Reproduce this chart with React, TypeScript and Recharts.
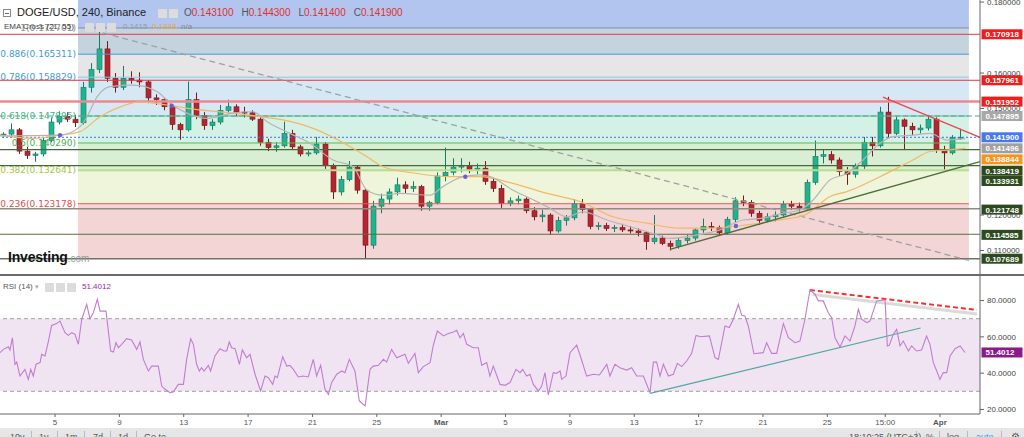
import React from 'react';
import {
  ComposedChart,
  LineChart,
  Line,
  Bar,
  XAxis,
  YAxis,
  ReferenceArea,
  ReferenceLine,
  ReferenceDot,
} from 'recharts';

const SANS = '"Liberation Sans", Arial, Helvetica, sans-serif';
const VERD = '"DejaVu Sans", Verdana, sans-serif';

const DAY_MIN = 0.58;
const DAY_MAX = 61.49;
const PRICE_MIN = 0.10338;
const PRICE_MAX = 0.18058;
const RSI_MIN = 17.5;
const RSI_MAX = 93.53;
const FIB_START = 5.43;
const FIB_END = 60.8;

// 12h candles, open / high / low / close, starting Feb 1 12:00
const ohlc: number[][] = [
  [0.1425, 0.1433, 0.1418, 0.1428], [0.1428, 0.1458, 0.142, 0.144], [0.144, 0.1445, 0.1372, 0.138], [0.138, 0.1392, 0.1358, 0.1368],
  [0.1368, 0.1378, 0.135, 0.1372], [0.1372, 0.1418, 0.1365, 0.141], [0.141, 0.1475, 0.1405, 0.1462], [0.1462, 0.1492, 0.1455, 0.1478],
  [0.1478, 0.149, 0.1462, 0.147], [0.147, 0.1482, 0.1448, 0.146], [0.146, 0.1575, 0.1455, 0.156], [0.156, 0.1628, 0.1545, 0.161],
  [0.161, 0.173, 0.16, 0.1668], [0.1668, 0.169, 0.1575, 0.1585], [0.1585, 0.16, 0.1545, 0.156], [0.156, 0.162, 0.1552, 0.1585],
  [0.1585, 0.1605, 0.157, 0.158], [0.158, 0.1602, 0.156, 0.1575], [0.1575, 0.158, 0.1515, 0.153], [0.153, 0.154, 0.151, 0.1525],
  [0.1525, 0.153, 0.1495, 0.1505], [0.1505, 0.151, 0.144, 0.1455], [0.1455, 0.146, 0.1412, 0.144], [0.144, 0.1576, 0.1435, 0.1525],
  [0.1525, 0.1545, 0.147, 0.148], [0.148, 0.149, 0.144, 0.1452], [0.1452, 0.147, 0.144, 0.1462], [0.1462, 0.151, 0.1455, 0.1495],
  [0.1495, 0.1525, 0.1485, 0.1505], [0.1505, 0.1512, 0.1478, 0.149], [0.149, 0.1505, 0.1475, 0.1488], [0.1488, 0.1495, 0.1465, 0.147],
  [0.147, 0.1475, 0.1395, 0.1405], [0.1405, 0.1415, 0.138, 0.139], [0.139, 0.1405, 0.1378, 0.1395], [0.1395, 0.1463, 0.139, 0.143],
  [0.143, 0.144, 0.1385, 0.1392], [0.1392, 0.1398, 0.1365, 0.1372], [0.1372, 0.1382, 0.1365, 0.1375], [0.1375, 0.142, 0.137, 0.14],
  [0.14, 0.1405, 0.133, 0.134], [0.134, 0.1345, 0.1245, 0.1265], [0.1265, 0.131, 0.1255, 0.13], [0.13, 0.1352, 0.1295, 0.1335],
  [0.1335, 0.134, 0.126, 0.127], [0.127, 0.1275, 0.1077, 0.1115], [0.1115, 0.124, 0.1105, 0.1225], [0.1225, 0.126, 0.1205, 0.1245],
  [0.1245, 0.1275, 0.123, 0.1265], [0.1265, 0.1305, 0.1255, 0.1285], [0.1285, 0.1295, 0.1262, 0.1275], [0.1275, 0.1295, 0.1265, 0.128],
  [0.128, 0.1285, 0.1212, 0.1225], [0.1225, 0.124, 0.1212, 0.1235], [0.1235, 0.132, 0.123, 0.131], [0.131, 0.139, 0.1295, 0.132],
  [0.132, 0.136, 0.1312, 0.1335], [0.1335, 0.136, 0.132, 0.134], [0.134, 0.135, 0.1318, 0.1328], [0.1328, 0.1345, 0.1315, 0.1332],
  [0.1332, 0.1352, 0.1285, 0.1295], [0.1295, 0.1305, 0.1265, 0.1275], [0.1275, 0.1285, 0.122, 0.1232], [0.1232, 0.125, 0.1225, 0.124],
  [0.124, 0.1255, 0.123, 0.1245], [0.1245, 0.125, 0.1205, 0.1212], [0.1212, 0.1222, 0.1185, 0.1195], [0.1195, 0.1215, 0.118, 0.12],
  [0.12, 0.1205, 0.1145, 0.1155], [0.1155, 0.1195, 0.115, 0.1185], [0.1185, 0.12, 0.117, 0.1192], [0.1192, 0.1245, 0.1185, 0.1232],
  [0.1232, 0.1245, 0.1205, 0.1215], [0.1215, 0.122, 0.116, 0.1168], [0.1168, 0.118, 0.1158, 0.117], [0.117, 0.1178, 0.1155, 0.1162],
  [0.1162, 0.1172, 0.1152, 0.1165], [0.1165, 0.1175, 0.1152, 0.1158], [0.1158, 0.1168, 0.1148, 0.1155], [0.1155, 0.1162, 0.114, 0.115],
  [0.115, 0.1155, 0.1102, 0.1125], [0.1125, 0.12, 0.1118, 0.1135], [0.1135, 0.1142, 0.1115, 0.112], [0.112, 0.1128, 0.11, 0.1112],
  [0.1112, 0.1135, 0.1105, 0.1128], [0.1128, 0.1145, 0.112, 0.1135], [0.1135, 0.1162, 0.1128, 0.1158], [0.1158, 0.119, 0.115, 0.1168],
  [0.1168, 0.118, 0.1155, 0.1165], [0.1165, 0.117, 0.1142, 0.115], [0.115, 0.1195, 0.1145, 0.1188], [0.1188, 0.125, 0.118, 0.124],
  [0.124, 0.1255, 0.1225, 0.1235], [0.1235, 0.1242, 0.1195, 0.1205], [0.1205, 0.1212, 0.1172, 0.1185], [0.1185, 0.1205, 0.1178, 0.1195],
  [0.1195, 0.121, 0.1182, 0.12], [0.12, 0.124, 0.1195, 0.123], [0.123, 0.124, 0.1215, 0.1225], [0.1225, 0.1235, 0.121, 0.122],
  [0.122, 0.13, 0.1215, 0.1292], [0.1292, 0.141, 0.1285, 0.1365], [0.1365, 0.1385, 0.1345, 0.137], [0.137, 0.138, 0.1345, 0.1355],
  [0.1355, 0.1362, 0.131, 0.1322], [0.1322, 0.1335, 0.1285, 0.1315], [0.1315, 0.1345, 0.1305, 0.1338], [0.1338, 0.142, 0.133, 0.1405],
  [0.1405, 0.142, 0.1365, 0.1395], [0.1395, 0.1505, 0.139, 0.149], [0.149, 0.1533, 0.1418, 0.143], [0.143, 0.1478, 0.1425, 0.1468],
  [0.1468, 0.1472, 0.1385, 0.145], [0.145, 0.146, 0.1425, 0.144], [0.144, 0.1455, 0.143, 0.1445], [0.1445, 0.1482, 0.1438, 0.147],
  [0.147, 0.1475, 0.1375, 0.1385], [0.1385, 0.1395, 0.1322, 0.1375], [0.1375, 0.1425, 0.137, 0.1418], [0.1418, 0.1443, 0.1412, 0.1419],
];

const emaFast: number[][] = [
  [0.58, 0.1423], [4.31, 0.1425], [5.55, 0.1449], [5.99, 0.1477], [6.61, 0.1533], [7.42, 0.1562], [8.85, 0.1566],
  [10.34, 0.1548], [11.15, 0.1515], [12.2, 0.1487], [13.45, 0.1472], [15.06, 0.1487], [16.3, 0.1491], [17.18, 0.1463],
  [18.6, 0.143], [19.85, 0.1402], [21.28, 0.1355], [22.52, 0.1336], [23.39, 0.127], [24.39, 0.1256], [25.44, 0.1261],
  [27.31, 0.1256], [28.11, 0.128], [29.36, 0.1308], [30.41, 0.1313], [31.04, 0.1308], [32.47, 0.127], [33.52, 0.1247],
  [34.58, 0.1224], [35.82, 0.1195], [36.82, 0.1209], [38.31, 0.1186], [39.74, 0.1167], [41.17, 0.1148], [42.22, 0.1134],
  [43.9, 0.1144], [45.33, 0.1158], [46.76, 0.1186], [48.0, 0.1191], [49.25, 0.1205], [50.3, 0.1214], [51.11, 0.1242],
  [52.17, 0.1299], [53.22, 0.1317], [54.22, 0.1355], [55.27, 0.1402], [56.08, 0.1421], [57.32, 0.1425], [58.38, 0.143],
  [59.44, 0.1411], [60.56, 0.1415],
];

const emaSlow: number[][] = [
  [0.58, 0.1425], [2.63, 0.1416], [4.31, 0.1425], [5.55, 0.1435], [6.8, 0.1477], [7.85, 0.1501], [9.28, 0.1519],
  [10.96, 0.151], [13.01, 0.1496], [15.06, 0.1487], [16.74, 0.1477], [18.17, 0.1468], [20.28, 0.144], [22.33, 0.1393],
  [23.39, 0.1364], [24.39, 0.1336], [26.5, 0.1317], [28.55, 0.1308], [30.41, 0.1308], [32.47, 0.1289], [34.58, 0.1261],
  [36.63, 0.1238], [38.68, 0.1195], [40.79, 0.1177], [42.84, 0.1163], [44.9, 0.1163], [47.01, 0.1172], [49.06, 0.1186],
  [50.61, 0.12], [52.17, 0.1252], [53.22, 0.1266], [55.27, 0.1308], [57.32, 0.1355], [58.38, 0.1379], [59.44, 0.1383],
  [60.56, 0.1388],
];

const crossMarks: number[][] = [[4.31, 0.1425], [11.25, 0.1508], [29.5, 0.1308], [46.32, 0.1169]];

const rsiPoints: number[][] = [
  [0.58, 51.3], [0.79, 53.1], [1.1, 54.6], [1.2, 52.8], [1.35, 59.5], [1.51, 44.9], [1.62, 46.1], [1.82, 38.4], [2.13, 42.1],
  [2.34, 36.6], [2.49, 42.1], [2.65, 38.4], [2.82, 44.9], [3.07, 45.8], [3.17, 50.4], [3.38, 49.5], [3.59, 57.7], [3.79, 66.3],
  [4.1, 67.3], [4.31, 68.7], [4.62, 62.3], [4.83, 60.8], [5.04, 62.3], [5.24, 61.4], [5.45, 55.9], [5.66, 69.7], [5.97, 77.9],
  [6.17, 70.0], [6.38, 73.3], [6.63, 80.7], [6.8, 74.2], [7.17, 74.2], [7.46, 52.2], [7.63, 51.7], [7.79, 56.8], [7.94, 54.0],
  [8.14, 55.9], [8.45, 59.0], [8.76, 58.3], [9.08, 53.1], [9.28, 57.2], [9.49, 47.6], [9.8, 41.2], [10.01, 43.9], [10.42, 43.9],
  [10.63, 32.9], [10.84, 31.1], [11.15, 29.2], [11.35, 29.6], [11.66, 33.8], [11.98, 33.8], [12.18, 47.6], [12.43, 59.0],
  [12.6, 55.9], [12.8, 44.9], [12.97, 41.2], [13.11, 43.0], [13.26, 41.2], [13.53, 44.3], [13.67, 41.2], [13.94, 49.5],
  [14.25, 53.5], [14.5, 52.2], [14.67, 52.2], [14.83, 57.2], [14.98, 54.0], [15.19, 53.5], [15.46, 44.9], [15.64, 52.8],
  [15.91, 48.5], [16.12, 50.4], [16.43, 39.4], [16.78, 30.2], [17.05, 38.4], [17.26, 37.5], [17.53, 33.8], [17.67, 38.4],
  [17.82, 37.5], [18.15, 49.1], [18.4, 43.9], [18.6, 44.3], [18.81, 42.1], [19.12, 37.9], [19.43, 38.4], [19.74, 37.9],
  [20.05, 47.6], [20.26, 38.4], [20.51, 44.3], [20.78, 31.1], [20.99, 28.3], [21.19, 34.8], [21.51, 39.4], [21.82, 41.2],
  [22.02, 40.3], [22.29, 47.6], [22.64, 41.2], [22.91, 24.7], [23.27, 21.9], [23.58, 42.1], [23.78, 43.9], [24.1, 44.3],
  [24.41, 47.6], [24.61, 46.1], [24.92, 53.1], [25.24, 48.5], [25.75, 50.4], [25.96, 45.4], [26.37, 50.9], [26.58, 40.3],
  [26.89, 43.6], [27.31, 45.8], [27.51, 55.3], [27.76, 63.2], [28.14, 60.5], [28.45, 61.9], [28.76, 62.7], [28.96, 63.6],
  [29.17, 59.5], [29.38, 61.9], [29.59, 55.9], [29.79, 55.0], [30.0, 54.0], [30.31, 54.0], [30.52, 44.3], [30.83, 45.8],
  [31.03, 38.4], [31.24, 43.9], [31.66, 33.8], [31.97, 33.3], [32.28, 34.8], [32.65, 42.1], [32.9, 40.3], [33.07, 42.1],
  [33.31, 38.4], [33.52, 39.4], [33.73, 33.8], [34.04, 30.2], [34.25, 32.9], [34.45, 40.3], [34.66, 28.0], [34.97, 40.3],
  [35.18, 39.9], [35.39, 41.2], [35.49, 36.6], [35.76, 38.4], [36.01, 51.3], [36.42, 55.5], [36.63, 50.0], [37.04, 38.4],
  [37.46, 39.4], [37.83, 39.0], [38.08, 42.1], [38.29, 44.9], [38.49, 38.4], [38.8, 44.9], [39.11, 43.0], [39.53, 41.7],
  [39.84, 43.0], [40.15, 38.4], [40.57, 38.4], [40.98, 29.2], [41.19, 46.1], [41.39, 46.1], [41.6, 38.4], [41.81, 44.9],
  [42.12, 38.4], [42.43, 39.4], [42.68, 45.4], [42.95, 43.6], [43.26, 46.7], [43.57, 50.9], [43.84, 60.8], [44.13, 60.1],
  [44.67, 60.5], [45.02, 48.5], [45.23, 47.6], [45.64, 66.0], [45.91, 65.1], [46.16, 69.7], [46.47, 77.9], [46.68, 71.9],
  [46.88, 71.5], [47.09, 66.0], [47.44, 50.7], [48.02, 51.3], [48.23, 56.8], [48.54, 50.9], [48.85, 50.9], [49.27, 67.3],
  [49.58, 59.5], [49.99, 56.8], [50.3, 57.7], [50.61, 69.7], [50.92, 85.8], [51.24, 83.4], [51.44, 79.8], [51.75, 79.8],
  [52.06, 73.3], [52.27, 70.6], [52.48, 59.5], [52.79, 54.4], [53.1, 60.5], [53.41, 57.7], [53.72, 66.0], [53.93, 75.2],
  [54.13, 69.7], [54.45, 67.8], [54.65, 68.7], [55.07, 79.8], [55.59, 80.3], [55.73, 55.0], [55.85, 55.3], [56.1, 61.4],
  [56.31, 64.1], [56.52, 55.0], [56.72, 57.7], [57.04, 52.2], [57.24, 55.0], [57.55, 52.2], [57.86, 52.8], [58.17, 60.5],
  [58.38, 55.9], [58.59, 45.8], [58.8, 41.2], [59.0, 36.6], [59.21, 40.3], [59.42, 40.3], [59.63, 49.5], [59.94, 53.5],
  [60.25, 55.0], [60.56, 51.4],
];

const fibRatios = ['1', '0.886', '0.786', '0.618', '0.5', '0.382', '0.236', '0'];
const fibPrices = [0.172701, 0.165311, 0.158829, 0.147895, 0.14029, 0.132641, 0.123178, 0.10788];
const fibLineColors = ['#7d8fab', '#3d9bd8', '#8cc5e7', '#4cb28e', '#53bd56', '#b9dc8e', '#e35a5a', 'none'];
const fibTextColors = ['#8a8a8a', '#3d9bd8', '#3d9bd8', '#3db98a', '#4caf50', '#a3c83d', '#e24e4e', 'none'];
const fibBandColors = ['#b2c5ee', '#c4d4de', '#e6e6e6', '#d5e8f4', '#d4f1e6', '#d9efd4', '#eef5da', '#f3d5d5'];

const levelPrices = [0.170918, 0.157961, 0.151952, 0.147895, 0.1419, 0.138419, 0.133931, 0.121748, 0.114585, 0.107689];
const levelColors = ['#e8363e', '#e8363e', '#f0878d', '#55a98c', '#4470e0', '#43683a', '#43683a', '#8f8c80', '#5d6b45', '#6d7461'];
const levelWidths = [1, 1, 2.5, 1, 1, 1.2, 1.2, 1.5, 1.2, 1.5];
const levelDash = ['', '', '', '5 3', '2 2', '', '', '', '', ''];

const tagValues = [0.170918, 0.157961, 0.151952, 0.147895, 0.1419, 0.141496, 0.138844, 0.138419, 0.133931, 0.121748, 0.114585, 0.107689];
const tagColors = ['#f21c1c', '#f21c1c', '#f21c1c', '#a8a8a8', '#4a78ec', '#a0a0a0', '#f7941d', '#2c4a1d', '#2c4a1d', '#2c4a1d', '#2c4a1d', '#2c4a1d'];
const tagShift = [0, 0, 0, 0, 0, 9.6, 11.2, 21.1, 15.4, 0.8, 0.6, 0];

const priceTicks = [0.11, 0.12, 0.15, 0.16, 0.18];
const rsiTicks = [20, 40, 60, 80];
const xTickDays = [4, 8, 12, 16, 20, 24, 28, 32, 36, 40, 44, 48, 52, 55.6, 59];
const xTickLabels = ['5', '9', '13', '17', '21', '25', 'Mar', '5', '9', '13', '17', '21', '25', '15:00', 'Apr'];

const candles = ohlc.map(([o, h, l, c], i) => ({ d: 0.75 + 0.5 * i, o, h, l, c, range: [l, h] }));
const fastData = emaFast.map(([d, v]) => ({ d, v }));
const slowData = emaSlow.map(([d, v]) => ({ d, v }));
const rsiData = rsiPoints.map(([d, v]) => ({ d, v }));

const BODY_W = 5;

function Candle(props: any) {
  const { x, y, width, height, payload } = props;
  if (x == null || y == null || !payload) return null;
  const top = Math.min(y, y + height);
  const hh = Math.abs(height);
  const span = payload.h - payload.l || 1e-9;
  const py = (p: number) => top + ((payload.h - p) / span) * hh;
  const up = payload.c >= payload.o;
  const b1 = py(Math.max(payload.o, payload.c));
  const b2 = py(Math.min(payload.o, payload.c));
  const cx = Math.round(x + (width || 0) / 2) + 0.5;
  const fill = up ? '#22b38e' : '#b3262f';
  const stroke = up ? '#177a62' : '#7a161d';
  return (
    <g>
      <line x1={cx} x2={cx} y1={top} y2={top + hh} stroke={stroke} strokeWidth={1} />
      <rect
        x={cx - BODY_W / 2}
        y={b1}
        width={BODY_W}
        height={Math.max(1, b2 - b1)}
        fill={fill}
        stroke={stroke}
        strokeWidth={0.6}
      />
    </g>
  );
}

function tagLabel(text: string, bg: string, shift: number) {
  return (props: any) => {
    const vb = props.viewBox;
    if (!vb) return null;
    const x = vb.x + vb.width + 1.5;
    const y = vb.y + shift;
    return (
      <g>
        <rect x={x} y={y - 5} width={41} height={10} fill={bg} />
        <text x={x + 4} y={y + 3} fontSize={8} fill="#fff" fontFamily={SANS} fontWeight={700}>
          {text}
        </text>
      </g>
    );
  };
}

function fibLabel(text: string, color: string) {
  return (props: any) => {
    const vb = props.viewBox;
    if (!vb) return null;
    return (
      <text x={vb.x - 2} y={vb.y + 3.2} fontSize={9} fill={color} textAnchor="end" fontFamily={VERD}>
        {text}
      </text>
    );
  };
}

function XTick(props: any) {
  const { x, y, payload } = props;
  const idx = xTickDays.indexOf(payload.value);
  const label = idx >= 0 ? xTickLabels[idx] : '';
  const bold = label === 'Mar' || label === 'Apr';
  return (
    <text x={x} y={y} dy={6} textAnchor="middle" fontSize={8} fontWeight={bold ? 700 : 400} fill="#555" fontFamily={SANS}>
      {label}
    </text>
  );
}

const iconBox = (left: number, top: number) => (
  <div
    key={left + '-' + top}
    style={{ position: 'absolute', left, top, width: 9, height: 9, background: '#dcdcdc', borderRadius: 1 }}
  />
);

export default function App() {
  return (
    <div
      style={{
        position: 'absolute',
        left: 0,
        top: 0,
        width: 1024,
        height: 437,
        overflow: 'hidden',
        background: '#fff',
        fontFamily: SANS,
      }}
    >
      <div style={{ position: 'absolute', left: 0, top: 0 }}>
        <ComposedChart width={1024} height={274} data={candles} margin={{ top: 0, right: 0, bottom: 0, left: 0 }}>
          <XAxis dataKey="d" type="number" domain={[DAY_MIN, DAY_MAX]} allowDataOverflow hide />
          <YAxis
            orientation="right"
            width={44}
            type="number"
            domain={[PRICE_MIN, PRICE_MAX]}
            allowDataOverflow
            ticks={priceTicks}
            interval={0}
            tickFormatter={(v: number) => v.toFixed(6)}
            tick={{ fontSize: 8, fill: '#444', fontFamily: SANS }}
            tickSize={4}
            tickMargin={3}
            stroke="#666"
          />
          <ReferenceArea x1={FIB_START} x2={FIB_END} y1={fibPrices[0]} y2={PRICE_MAX} fill={fibBandColors[0]} fillOpacity={1} stroke="none" ifOverflow="hidden" />
          {fibPrices.slice(1).map((p, i) => (
            <ReferenceArea
              key={'band' + i}
              x1={FIB_START}
              x2={FIB_END}
              y1={p}
              y2={fibPrices[i]}
              fill={fibBandColors[i + 1]}
              fillOpacity={1}
              stroke="none"
            />
          ))}
          {fibPrices.map((p, i) =>
            fibLineColors[i] === 'none' ? null : (
              <ReferenceLine
                key={'fib' + i}
                segment={[
                  { x: FIB_START, y: p },
                  { x: FIB_END, y: p },
                ]}
                stroke={fibLineColors[i]}
                strokeWidth={i === 5 ? 2 : 1}
                label={fibLabel(fibRatios[i] + '(' + p.toFixed(6) + ')', fibTextColors[i])}
              />
            )
          )}
          {levelPrices.map((p, i) => (
            <ReferenceLine
              key={'lvl' + i}
              y={p}
              stroke={levelColors[i]}
              strokeWidth={levelWidths[i]}
              strokeDasharray={levelDash[i] || undefined}
            />
          ))}
          <ReferenceLine
            segment={[
              { x: 6.98, y: 0.1713 },
              { x: 60.8, y: 0.1072 },
            ]}
            stroke="#a0a0a0"
            strokeWidth={1.3}
            strokeDasharray="6 4"
          />
          <Line data={slowData} dataKey="v" type="monotone" stroke="#f3b866" strokeWidth={1.2} dot={false} isAnimationActive={false} />
          <Line data={fastData} dataKey="v" type="monotone" stroke="#b4b4b4" strokeWidth={1.2} dot={false} isAnimationActive={false} />
          <Bar dataKey="range" shape={Candle} barSize={5} isAnimationActive={false} />
          {crossMarks.map(([d, p], i) => (
            <ReferenceDot key={'cm' + i} x={d} y={p} r={2.2} fill="#6a5fd0" stroke="none" />
          ))}
          <ReferenceLine
            segment={[
              { x: 42.22, y: 0.11033 },
              { x: 61.49, y: 0.13503 },
            ]}
            stroke="#4b6e3c"
            strokeWidth={1.4}
          />
          <ReferenceLine
            segment={[
              { x: 55.46, y: 0.1532 },
              { x: 61.49, y: 0.1419 },
            ]}
            stroke="#ea4850"
            strokeWidth={1.4}
          />
          {tagValues.map((p, i) => (
            <ReferenceLine
              key={'tag' + i}
              y={p}
              stroke="none"
              label={tagLabel(p.toFixed(6), tagColors[i], tagShift[i])}
            />
          ))}
        </ComposedChart>
      </div>

      {/* panel separator */}
      <div style={{ position: 'absolute', left: 0, top: 274, width: 1024, height: 2, background: '#6a6a6a' }} />

      <div style={{ position: 'absolute', left: 0, top: 276 }}>
        <LineChart width={1024} height={152} margin={{ top: 0, right: 0, bottom: 0, left: 0 }}>
          <XAxis
            dataKey="d"
            type="number"
            domain={[DAY_MIN, DAY_MAX]}
            allowDataOverflow
            ticks={xTickDays}
            interval={0}
            tick={<XTick />}
            tickSize={3}
            height={14}
            stroke="#666"
          />
          <YAxis
            orientation="right"
            width={44}
            type="number"
            domain={[RSI_MIN, RSI_MAX]}
            allowDataOverflow
            ticks={rsiTicks}
            interval={0}
            tickFormatter={(v: number) => v.toFixed(4)}
            tick={{ fontSize: 8, fill: '#444', fontFamily: SANS }}
            tickSize={4}
            tickMargin={3}
            stroke="#666"
          />
          <ReferenceArea y1={30} y2={70} fill="#f1e4f2" fillOpacity={1} stroke="none" />
          <ReferenceLine y={70} stroke="#a0a0a0" strokeDasharray="4 3" />
          <ReferenceLine y={30} stroke="#a0a0a0" strokeDasharray="4 3" />
          <ReferenceLine
            segment={[
              { x: 51.1, y: 83.3 },
              { x: 61.3, y: 72.6 },
            ]}
            stroke="#dadada"
            strokeWidth={3}
          />
          <ReferenceLine
            segment={[
              { x: 50.92, y: 85.8 },
              { x: 61.3, y: 74.8 },
            ]}
            stroke="#ff2a2a"
            strokeWidth={2}
            strokeDasharray="5 3"
          />
          <ReferenceLine
            segment={[
              { x: 40.98, y: 28.9 },
              { x: 57.8, y: 64.9 },
            ]}
            stroke="#4fa9a1"
            strokeWidth={1.2}
          />
          <Line data={rsiData} dataKey="v" type="linear" stroke="#c07dd1" strokeWidth={1.1} dot={false} isAnimationActive={false} />
          <ReferenceLine y={51.4012} stroke="none" label={tagLabel('51.4012', '#8a1a8a', 0)} />
        </LineChart>
      </div>

      {/* header legend */}
      <div style={{ position: 'absolute', left: 3, top: 9, width: 8, height: 8, border: '1px solid #888', boxSizing: 'border-box' }}>
        <div style={{ position: 'absolute', left: 1, top: 2.5, width: 4, height: 1, background: '#666' }} />
      </div>
      <div style={{ position: 'absolute', left: 17, top: 6, fontSize: 11, color: '#222', whiteSpace: 'nowrap' }}>
        DOGE/USD, 240, Binance
      </div>
      {iconBox(158, 9)}
      {iconBox(169, 9)}
      <div style={{ position: 'absolute', left: 184, top: 7, fontSize: 10, whiteSpace: 'nowrap' }}>
        <span style={{ color: '#555' }}>O</span>
        <span style={{ color: '#e0302a' }}>0.143100</span>
        <span style={{ color: '#555', marginLeft: 8 }}>H</span>
        <span style={{ color: '#e0302a' }}>0.144300</span>
        <span style={{ color: '#555', marginLeft: 8 }}>L</span>
        <span style={{ color: '#e0302a' }}>0.141400</span>
        <span style={{ color: '#555', marginLeft: 8 }}>C</span>
        <span style={{ color: '#e0302a' }}>0.141900</span>
      </div>
      <div style={{ position: 'absolute', left: 4, top: 22, fontSize: 8, color: '#444', whiteSpace: 'nowrap' }}>
        EMA Cross (21, 55)
      </div>
      {iconBox(85, 23)}
      {iconBox(96, 23)}
      {iconBox(107, 23)}
      <div style={{ position: 'absolute', left: 123, top: 22, fontSize: 8, color: '#9a9a9a' }}>0.1415</div>
      <div style={{ position: 'absolute', left: 152, top: 22, fontSize: 8, color: '#f0a63a' }}>0.1388</div>
      <div style={{ position: 'absolute', left: 181, top: 22, fontSize: 8, color: '#888' }}>n/a</div>

      {/* Investing.com logo */}
      <div style={{ position: 'absolute', left: 8, top: 249, whiteSpace: 'nowrap', lineHeight: '16px' }}>
        <span style={{ fontSize: 14, fontWeight: 700, color: '#111', letterSpacing: -0.2 }}>Investing</span>
        <span style={{ fontSize: 10, color: '#999' }}>.com</span>
      </div>

      {/* RSI legend */}
      <div style={{ position: 'absolute', left: 3, top: 282, fontSize: 8, color: '#555', whiteSpace: 'nowrap' }}>
        RSI (14) <span style={{ color: '#aaa', fontSize: 7 }}>▾</span>
      </div>
      {iconBox(45, 283)}
      {iconBox(56, 283)}
      {iconBox(67, 283)}
      <div style={{ position: 'absolute', left: 82, top: 282, fontSize: 8, color: '#9c27b0' }}>51.4012</div>

      {/* bottom toolbar */}
      <div style={{ position: 'absolute', left: 0, top: 428, width: 1024, height: 9, background: '#e6e6e6', overflow: 'hidden' }}>
        {[
          ['10y', 10],
          ['1y', 39],
          ['1m', 65],
          ['7d', 93],
          ['1d', 118],
          ['Go to...', 144],
        ].map(([t, l]) => (
          <div key={t as string} style={{ position: 'absolute', left: l as number, top: 4, fontSize: 9, color: '#555' }}>
            {t}
          </div>
        ))}
        {[31, 57, 84, 110, 136, 916, 939, 967, 1001].map((l) => (
          <div key={'sep' + l} style={{ position: 'absolute', left: l, top: 3, width: 1, height: 8, background: '#bbb' }} />
        ))}
        <div style={{ position: 'absolute', left: 849, top: 4, fontSize: 9, color: '#555', whiteSpace: 'nowrap' }}>18:10:25 (UTC+3)</div>
        <div style={{ position: 'absolute', left: 926, top: 4, fontSize: 9, color: '#555' }}>%</div>
        <div style={{ position: 'absolute', left: 947, top: 4, fontSize: 9, color: '#555' }}>log</div>
        <div style={{ position: 'absolute', left: 976, top: 4, fontSize: 9, color: '#3aa0e0' }}>auto</div>
        <div style={{ position: 'absolute', left: 1011, top: 3, fontSize: 10, color: '#555' }}>⚙</div>
      </div>
    </div>
  );
}
